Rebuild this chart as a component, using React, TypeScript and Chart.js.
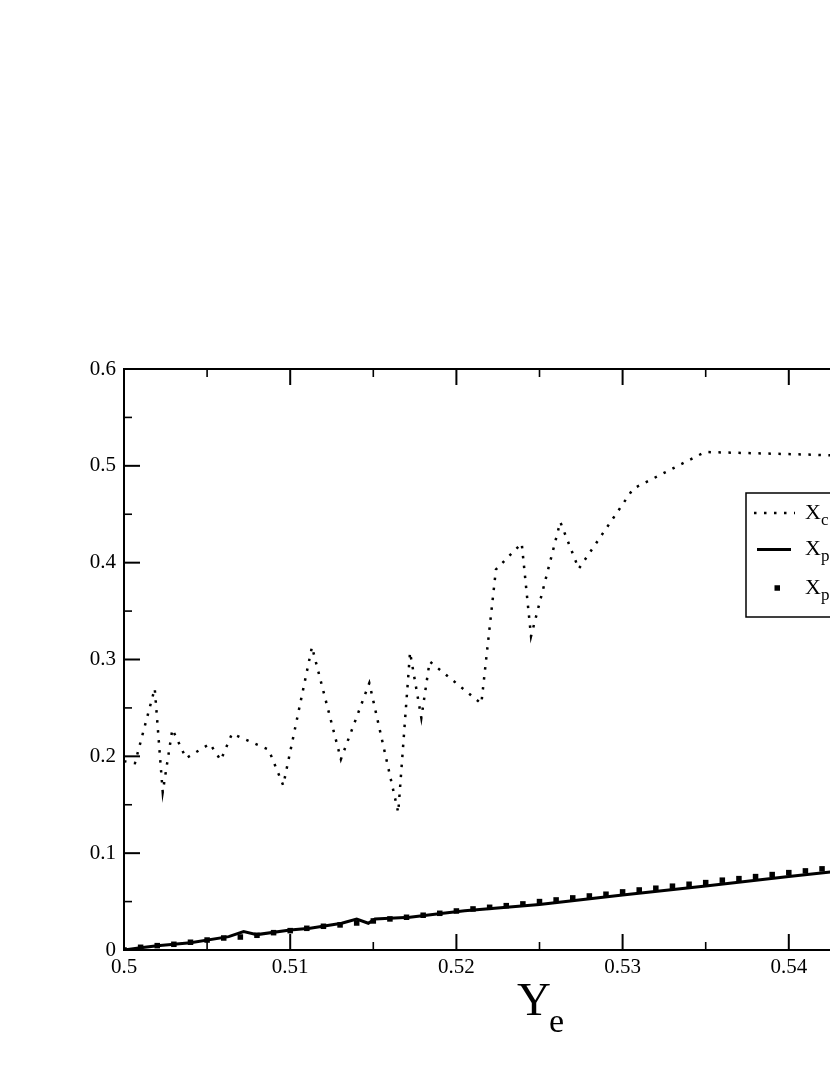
import { useEffect, useRef } from "react";
import { Chart, registerables } from "chart.js";

Chart.register(...registerables);

// X_c (dotted curve): vertices
const xcYe = [
  0.5, 0.50066, 0.50185, 0.50233, 0.50291, 0.50373, 0.50517, 0.50582, 0.5065,
  0.5087, 0.50958, 0.51131, 0.51305, 0.51476, 0.5165, 0.51721, 0.51789, 0.51839,
  0.5215, 0.52238, 0.52393, 0.52449, 0.52625, 0.52736, 0.53064, 0.53496, 0.5425, 0.55,
];
const xcValues = [
  0.195, 0.193, 0.27, 0.163, 0.228, 0.198, 0.213, 0.196, 0.2234,
  0.207, 0.17, 0.313, 0.197, 0.2757, 0.142, 0.3075, 0.2396, 0.298,
  0.2544, 0.393, 0.42, 0.324, 0.442, 0.3937, 0.4764, 0.5143, 0.511, 0.508,
];

// X_p (solid line)
const xpLineYe = [
  0.5, 0.501, 0.502, 0.504, 0.5063, 0.5072, 0.508, 0.51, 0.5112, 0.5131,
  0.514, 0.5147, 0.5151, 0.5172, 0.5192, 0.5205, 0.5223, 0.525, 0.53, 0.535,
  0.54, 0.5425, 0.55,
];
const xpLineValues = [
  0, 0.0024, 0.0045, 0.0076, 0.0138, 0.019, 0.0159, 0.0207, 0.0224, 0.0276,
  0.032, 0.0276, 0.032, 0.0338, 0.038, 0.0405, 0.043, 0.047, 0.0569, 0.066,
  0.0758, 0.0805, 0.095,
];

// X_p (square markers)
const xpPointYe = [
  0.5, 0.501, 0.502, 0.503, 0.504, 0.505, 0.506, 0.507, 0.508, 0.509,
  0.51, 0.511, 0.512, 0.513, 0.514, 0.515, 0.516, 0.517, 0.518, 0.519,
  0.52, 0.521, 0.522, 0.523, 0.524, 0.525, 0.526, 0.527, 0.528, 0.529,
  0.53, 0.531, 0.532, 0.533, 0.534, 0.535, 0.536, 0.537, 0.538, 0.539,
  0.54, 0.541, 0.542, 0.543,
];
const xpPointValues = [
  0, 0.0028, 0.0045, 0.0059, 0.008, 0.0103, 0.0124, 0.0134, 0.0152, 0.0179,
  0.02, 0.0224, 0.0245, 0.0259, 0.0279, 0.03, 0.0321, 0.0338, 0.0359, 0.0379,
  0.0403, 0.0424, 0.0441, 0.0458, 0.0476, 0.05, 0.0517, 0.0538, 0.0558, 0.0576,
  0.06, 0.062, 0.0638, 0.0659, 0.0679, 0.0696, 0.0721, 0.0737, 0.0758, 0.0779,
  0.0799, 0.0817, 0.0838, 0.0857,
];

const legendLabels = [
  { main: "X", sub: "c" },
  { main: "X", sub: "p" },
  { main: "X", sub: "p" },
];
const axisTitle = { main: "Y", sub: "e" };

const FONT = '"Liberation Serif", "Times New Roman", Times, serif';

const fmt = (v: number) => String(parseFloat(Number(v).toFixed(3)));

const decorPlugin = {
  id: "decor",
  afterDraw(chart: any) {
    const { ctx, chartArea: a, scales } = chart;
    const x = scales.x;
    const y = scales.y;
    ctx.save();
    ctx.strokeStyle = "#000";
    ctx.lineCap = "butt";
    const line = (x1: number, y1: number, x2: number, y2: number) => {
      ctx.beginPath();
      ctx.moveTo(x1, y1);
      ctx.lineTo(x2, y2);
      ctx.stroke();
    };
    // ticks (inside, on all sides)
    const xMaj = x.ticks.map((t: any) => t.value);
    const yMaj = y.ticks.map((t: any) => t.value);
    ctx.lineWidth = 2;
    xMaj.forEach((v: number) => {
      const p = x.getPixelForValue(v);
      line(p, a.bottom, p, a.bottom - 16);
      line(p, a.top, p, a.top + 16);
    });
    yMaj.forEach((v: number) => {
      const p = y.getPixelForValue(v);
      line(a.left, p, a.left + 16, p);
      line(a.right, p, a.right - 16, p);
    });
    ctx.lineWidth = 1.6;
    for (let i = 0; i < xMaj.length - 1; i++) {
      const p = x.getPixelForValue((xMaj[i] + xMaj[i + 1]) / 2);
      line(p, a.bottom, p, a.bottom - 8);
      line(p, a.top, p, a.top + 8);
    }
    for (let i = 0; i < yMaj.length - 1; i++) {
      const p = y.getPixelForValue((yMaj[i] + yMaj[i + 1]) / 2);
      line(a.left, p, a.left + 8, p);
      line(a.right, p, a.right - 8, p);
    }
    // frame
    ctx.lineWidth = 2;
    ctx.strokeRect(a.left, a.top, a.right - a.left, a.bottom - a.top);

    // axis title Y_e
    ctx.fillStyle = "#000";
    ctx.textBaseline = "alphabetic";
    ctx.textAlign = "left";
    ctx.font = `47px ${FONT}`;
    const tx = 517;
    ctx.fillText(axisTitle.main, tx, 1015);
    const w = ctx.measureText(axisTitle.main).width;
    ctx.font = `34px ${FONT}`;
    ctx.fillText(axisTitle.sub, tx + w - 2, 1032);

    // legend
    const lx = 746, ly = 493, lb = 617;
    ctx.fillStyle = "#fff";
    ctx.fillRect(lx, ly, 220, lb - ly);
    ctx.lineWidth = 1.5;
    ctx.strokeStyle = "#000";
    ctx.strokeRect(lx, ly, 220, lb - ly);
    const rows = [513, 549.5, 588];
    const ds = chart.data.datasets;
    // dotted sample
    ctx.save();
    ctx.lineWidth = ds[0].borderWidth;
    ctx.setLineDash(ds[0].borderDash);
    line(754, rows[0], 795, rows[0]);
    ctx.restore();
    // solid sample
    ctx.lineWidth = ds[1].borderWidth;
    line(757, rows[1], 791, rows[1]);
    // square sample
    ctx.fillStyle = "#000";
    ctx.fillRect(774.5, rows[2] - 2.75, 5.5, 5.5);
    legendLabels.forEach((lab, i) => {
      ctx.font = `22px ${FONT}`;
      const base = rows[i] + 5.5;
      ctx.fillText(lab.main, 805, base);
      const mw = ctx.measureText(lab.main).width;
      ctx.font = `17px ${FONT}`;
      ctx.fillText(lab.sub, 805 + mw, base + 6);
    });
    ctx.restore();
  },
};

export default function App() {
  const ref = useRef<HTMLCanvasElement | null>(null);
  useEffect(() => {
    if (!ref.current) return;
    const chart = new Chart(ref.current, {
      type: "scatter",
      data: {
        datasets: [
          {
            label: "X_c",
            data: xcYe.map((v, i) => ({ x: v, y: xcValues[i] })),
            showLine: true,
            borderColor: "#000",
            backgroundColor: "#000",
            borderWidth: 2.5,
            borderDash: [2.5, 7.5],
            borderJoinStyle: "miter",
            pointRadius: 0,
            tension: 0,
          },
          {
            label: "X_p line",
            data: xpLineYe.map((v, i) => ({ x: v, y: xpLineValues[i] })),
            showLine: true,
            borderColor: "#000",
            backgroundColor: "#000",
            borderWidth: 3,
            pointRadius: 0,
            tension: 0,
          },
          {
            label: "X_p points",
            data: xpPointYe.map((v, i) => ({ x: v, y: xpPointValues[i] })),
            showLine: false,
            pointStyle: "rect",
            pointRadius: 3.9,
            borderWidth: 0,
            backgroundColor: "#000",
            borderColor: "#000",
          },
        ],
      },
      options: {
        animation: false,
        responsive: false,
        devicePixelRatio: 1,
        layout: { padding: { left: 0, top: 369, right: 45, bottom: 0 } },
        plugins: { legend: { display: false }, tooltip: { enabled: false } },
        scales: {
          x: {
            type: "linear",
            min: 0.5,
            max: 0.55,
            grid: { display: false, drawTicks: false },
            border: { display: false },
            ticks: {
              stepSize: 0.01,
              autoSkip: false,
              maxRotation: 0,
              padding: 5,
              color: "#000",
              font: { family: FONT, size: 21 },
              callback: (v: any) => fmt(v),
            },
            afterFit: (s: any) => {
              s.height = 125;
            },
          },
          y: {
            type: "linear",
            min: 0,
            max: 0.6,
            grid: { display: false, drawTicks: false },
            border: { display: false },
            ticks: {
              stepSize: 0.1,
              autoSkip: false,
              padding: 8,
              color: "#000",
              font: { family: FONT, size: 21 },
              callback: (v: any) => fmt(v),
            },
            afterFit: (s: any) => {
              s.width = 124;
            },
          },
        },
      },
      plugins: [decorPlugin],
    } as any);
    return () => chart.destroy();
  }, []);
  return (
    <div
      style={{
        position: "fixed",
        left: 0,
        top: 0,
        width: 830,
        height: 1075,
        overflow: "hidden",
        background: "#fff",
      }}
    >
      <canvas ref={ref} width={1000} height={1075} style={{ display: "block" }} />
    </div>
  );
}
